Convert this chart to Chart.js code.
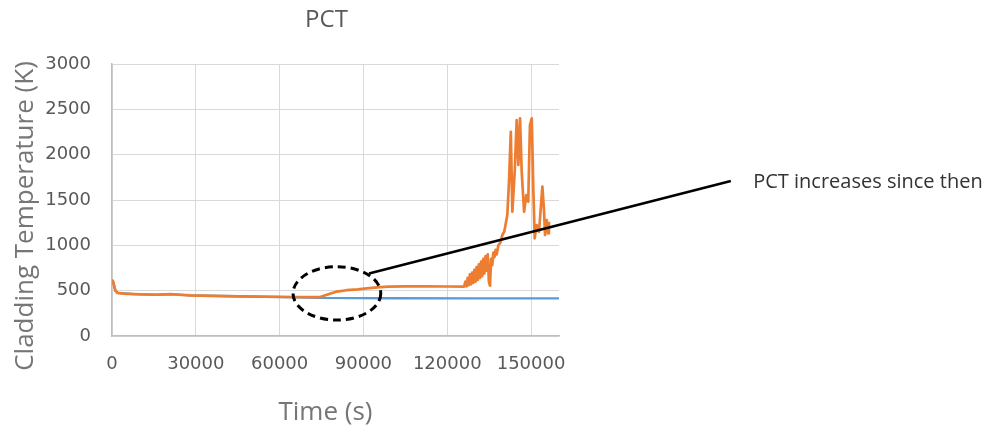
<!DOCTYPE html>
<html>
<head>
<meta charset="utf-8">
<script src="https://cdn.jsdelivr.net/npm/chart.js@4.4.1/dist/chart.umd.min.js"></script>
<style>
  html, body { margin: 0; padding: 0; background: #fff; }
  canvas { display: block; }
</style>
</head>
<body>
<canvas id="pct" width="993" height="434"></canvas>
<script>
// Peak cladding temperature, hottest rod (s, K)
const timeHot = [
  0, 400, 1200, 2000, 4000, 8000, 12000, 16000, 19000, 21000, 24000, 28000,
  35000, 45000, 55000, 65000, 72000, 74500, 78000, 80500, 84000, 88000, 92000,
  96000, 99000, 105000, 112000, 120000, 126000,
  126500, 126900, 127300, 127700, 128100, 128500, 128900, 129300, 129700,
  130100, 130500, 130900, 131300, 131700, 132100, 132500, 132900, 133300,
  133700, 134100, 134500, 134900, 135300, 135700, 136100, 136500, 136900,
  137300, 137700, 138300, 139000, 139800, 140400, 141000, 141500, 142100,
  142750, 143300, 144150, 144850, 145450, 146050, 146650, 147500, 148300,
  149000, 149600, 150250, 150800, 151300, 152000, 152850, 154050, 154650,
  155000, 155600, 156100, 156400
];
const tempHot = [
  618, 600, 500, 475, 468, 462, 458, 455, 460, 462, 455, 448,
  442, 438, 433, 430, 428, 430, 465, 490, 505, 515, 528,
  540, 545, 548, 548, 546, 545,
  600, 548, 640, 560, 680, 570, 700, 585, 730,
  600, 760, 620, 790, 640, 820, 660, 850, 690,
  880, 720, 900, 600, 555, 850, 780, 920, 870,
  950, 900, 1000, 1030, 1120, 1150, 1250, 1334, 1702,
  2253, 1371, 1812, 2382, 1886, 2400, 1812, 1371, 1555,
  1481, 2327, 2400, 1629, 1077, 1224, 1150, 1647, 1371,
  1114, 1279, 1132, 1260
];

// Reference case (s, K)
const timeRef = [0, 400, 1200, 2000, 8000, 16000, 21000, 28000, 45000, 65000, 74500, 100000, 130000, 160000];
const tempRef = [618, 600, 500, 475, 462, 455, 462, 448, 438, 428, 420, 416, 415, 415];

const xTicks = [0, 30000, 60000, 90000, 120000, 150000];
const yTicks = [0, 500, 1000, 1500, 2000, 2500, 3000];

const chartTitle = 'PCT';
const xTitle = 'Time (s)';
const yTitle = 'Cladding Temperature (K)';
const noteText = 'PCT increases since then';

// Callout geometry, in axis units
const ring = { x: 80500, y: 470, rx: 15700, ry: 294 };
const leaderFrom = { x: 92000, y: 690 };
const leaderTo = { x: 221500, y: 1710 };
const noteAt = { x: 229500, y: 1700 };

const toPoints = (xs, ys) => xs.map((t, i) => ({ x: t, y: ys[i] }));

const callout = {
  id: 'callout',
  afterDatasetsDraw(chart) {
    const { ctx, chartArea, scales: { x, y } } = chart;
    const midX = (chartArea.left + chartArea.right) / 2;
    const midY = (chartArea.top + chartArea.bottom) / 2;
    ctx.save();

    // chart heading
    ctx.font = '24px "Open Sans"';
    ctx.fillStyle = '#595959';
    ctx.textAlign = 'center';
    ctx.textBaseline = 'middle';
    ctx.fillText(chartTitle, midX - 9, 20);

    // axis titles
    ctx.font = '26px "Open Sans"';
    ctx.fillStyle = '#767676';
    ctx.textBaseline = 'alphabetic';
    ctx.fillText(xTitle, midX - 10, 420);
    ctx.save();
    ctx.translate(33, midY + 16);
    ctx.rotate(-Math.PI / 2);
    ctx.fillText(yTitle, 0, 0);
    ctx.restore();

    // dashed ring around the divergence point
    const cx = x.getPixelForValue(ring.x);
    const cy = y.getPixelForValue(ring.y);
    const rx = x.getPixelForValue(ring.x + ring.rx) - cx;
    const ry = cy - y.getPixelForValue(ring.y + ring.ry);
    ctx.strokeStyle = '#000';
    ctx.lineWidth = 3;
    ctx.setLineDash([8, 5]);
    ctx.beginPath();
    ctx.ellipse(cx, cy, rx, ry, 0, 0, Math.PI * 2);
    ctx.stroke();

    // leader line to the note
    ctx.setLineDash([]);
    ctx.lineWidth = 2.5;
    ctx.beginPath();
    ctx.moveTo(x.getPixelForValue(leaderFrom.x), y.getPixelForValue(leaderFrom.y));
    ctx.lineTo(x.getPixelForValue(leaderTo.x), y.getPixelForValue(leaderTo.y));
    ctx.stroke();

    ctx.font = '20px "Open Sans"';
    ctx.fillStyle = '#333';
    ctx.textAlign = 'left';
    ctx.textBaseline = 'middle';
    ctx.fillText(noteText, x.getPixelForValue(noteAt.x), y.getPixelForValue(noteAt.y));

    ctx.restore();
  }
};

new Chart(document.getElementById('pct'), {
  type: 'line',
  data: {
    datasets: [
      {
        label: 'Hot rod',
        data: toPoints(timeHot, tempHot),
        borderColor: '#ED7D31',
        borderWidth: 2.7,
        pointRadius: 0,
        tension: 0,
        borderJoinStyle: 'round',
        order: 0
      },
      {
        label: 'Reference',
        data: toPoints(timeRef, tempRef),
        borderColor: '#5B9BD5',
        borderWidth: 2.4,
        pointRadius: 0,
        tension: 0,
        order: 1
      }
    ]
  },
  options: {
    responsive: false,
    animation: false,
    devicePixelRatio: 1,
    layout: { padding: { left: 0, right: 434, top: 64, bottom: 0 } },
    plugins: {
      legend: { display: false },
      title: { display: false },
      tooltip: { enabled: false }
    },
    scales: {
      x: {
        type: 'linear',
        min: 0,
        max: 160000,
        afterBuildTicks: s => { s.ticks = xTicks.map(v => ({ value: v })); },
        afterFit: s => { s.height = 98; },
        grid: { color: '#d9d9d9', lineWidth: 1, drawTicks: false },
        border: { color: '#bfbfbf', width: 1.5 },
        ticks: {
          autoSkip: false,
          maxRotation: 0,
          padding: 18,
          color: '#595959',
          font: { family: 'DejaVu Sans', size: 18 },
          callback: v => String(v)
        }
      },
      y: {
        type: 'linear',
        min: 0,
        max: 3000,
        afterBuildTicks: s => { s.ticks = yTicks.map(v => ({ value: v })); },
        afterFit: s => { s.width = 112; },
        grid: { color: '#d9d9d9', lineWidth: 1, drawTicks: false },
        border: { color: '#bfbfbf', width: 1.5 },
        ticks: {
          padding: 21,
          color: '#595959',
          font: { family: 'DejaVu Sans', size: 18 },
          callback: v => String(v)
        }
      }
    }
  },
  plugins: [callout]
});
</script>
</body>
</html>
